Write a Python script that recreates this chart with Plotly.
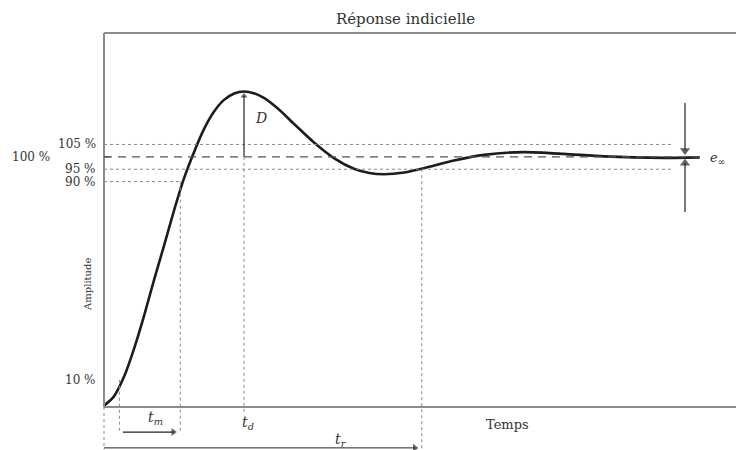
import plotly.graph_objects as go

# Step response samples: time (s) and amplitude (% of final value)
time = [0, 0.14, 0.29, 0.43, 0.57, 0.71, 0.86, 1.00, 1.14, 1.29, 1.43, 1.57,
        1.71, 1.86, 2.00, 2.14, 2.29, 2.50, 2.71, 3.00, 3.29, 3.57, 3.79, 4.00,
        4.29, 4.57, 5.00, 5.43, 6.00, 6.57, 7.14, 8.00, 8.51]
amplitude = [-0.5, 3.2, 11.5, 22.6, 35.6, 49.8, 64.4, 78.3, 91.1, 102.2, 111.3, 118.2,
             122.9, 125.6, 126.4, 125.7, 123.7, 119.1, 113.4, 105.8, 99.4, 95.2, 93.5, 93.0,
             93.7, 95.4, 98.5, 100.8, 101.9, 101.2, 100.2, 99.6, 99.8]

# Reference levels (%) and their labels
level_values = [10, 90, 95, 100, 105]
level_labels = ["10 %", "90 %", "95 %", "100 %", "105 %"]

# Characteristic instants
t_10 = 0.22      # 10 % crossing
t_90 = 1.09      # 90 % crossing
t_peak = 2.00    # peak time
t_settle = 4.54  # entry into the ±5 % band
t_end = 8.51
t_band_end = 8.13
t_einf = 8.30
peak_value = 126.4

FONT = "DejaVu Serif"
TXT = "#333333"
GRID = "#8a8a8a"
INK = "#222222"

fig = go.Figure()

fig.add_trace(go.Scatter(
    x=time, y=amplitude, mode="lines",
    line=dict(color="#1c1c1c", width=2.6, shape="spline", smoothing=0.6),
    hoverinfo="skip", showlegend=False,
))

def seg(x0, y0, x1, y1, dash="solid", color=GRID, width=1):
    fig.add_shape(type="line", xref="x", yref="y", x0=x0, x1=x1, y0=y0, y1=y1,
                  line=dict(color=color, width=width, dash=dash))

y_top = 150
y_axis = -1
x_right = 9.03

# frame: top, bottom, left
seg(0, y_top, x_right, y_top, color="#8c8c8c", width=2)
seg(0, y_axis, x_right, y_axis, color="#8c8c8c", width=2)
seg(0, y_axis, 0, y_top, color="#8c8c8c", width=2)

# tolerance band and intermediate levels
seg(0, 105, t_band_end, 105, "dot")
seg(0, 95, t_band_end, 95, "dot")
seg(0, 90, t_90, 90, "dot")
seg(0, 100, t_end, 100, "8px,6px", color="#555555", width=1.4)
seg(0, 100, 0.09, 100, color="#555555", width=1.4)

# construction lines below the time axis
seg(0, y_axis, 0, -18.3, "dot")
seg(t_10, 10, t_10, -11.1, "dot")
seg(t_90, 90, t_90, -11.1, "dot")
seg(t_peak, 100, t_peak, -4.2, "dot")
seg(t_settle, 95, t_settle, -18.3, "dot")

# arrows: shaft as a line shape, head as a triangle marker
arrow_x, arrow_y, arrow_sym, arrow_size = [], [], [], []

def arrow(x0, y0, x1, y1, symbol, size, width=1.2):
    seg(x0, y0, x1, y1, color=INK, width=width)
    arrow_x.append(x1)
    arrow_y.append(y1)
    arrow_sym.append(symbol)
    arrow_size.append(size)

arrow(t_peak, 100, t_peak, peak_value - 1.8, "triangle-up", 6)       # overshoot D
arrow(0.27, -11.1, 0.99, -11.1, "triangle-right", 7)                  # rise time
arrow(0.0, -17.5, 4.44, -17.5, "triangle-right", 7, width=1.0)        # response time
arrow(t_einf, 121.7, t_einf, 102.6, "triangle-down", 9)               # static error, top
arrow(t_einf, 77.7, t_einf, 97.4, "triangle-up", 9)                   # static error, bottom

fig.add_trace(go.Scatter(
    x=arrow_x, y=arrow_y, mode="markers",
    marker=dict(symbol=arrow_sym, size=arrow_size, color=INK, line=dict(width=0)),
    hoverinfo="skip", showlegend=False,
))

def label(x, y, text, size=13, **kw):
    fig.add_annotation(x=x, y=y, xref="x", yref="y", text=text, showarrow=False,
                       font=dict(family=FONT, size=size, color=TXT), **kw)

# level labels on the amplitude axis
for v, lab in zip(level_values, level_labels):
    shift = -52 if v == 100 else -6
    label(0, v, lab, size=12, xanchor="right", yanchor="middle", xshift=shift)

label(0, 48.3, "Amplitude", size=10, textangle=-90, xshift=-16)
label(2.24, 115.7, "<i>D</i>", size=14)
label(0.73, -5.6, "<i>t</i><sub><i>m</i></sub>", size=14)
label(2.06, -7.4, "<i>t</i><sub><i>d</i></sub>", size=14)
label(3.39, -14.3, "<i>t</i><sub><i>r</i></sub>", size=14)
label(5.77, -7.9, "Temps", size=13)
label(8.77, 99.5, "<i>e</i><sub>∞</sub>", size=13)

fig.update_layout(
    width=736, height=450,
    margin=dict(l=100, r=0, t=29, b=0),
    paper_bgcolor="white", plot_bgcolor="white",
    title=dict(text="Réponse indicielle", x=0.551, y=0.958, xanchor="center",
               yanchor="middle", font=dict(family=FONT, size=15, color=TXT)),
    xaxis=dict(range=[-0.0571, 9.0286], visible=False, fixedrange=True),
    yaxis=dict(range=[-18.35, 151.61], visible=False, fixedrange=True),
    showlegend=False,
)

fig.write_html("out.html")
